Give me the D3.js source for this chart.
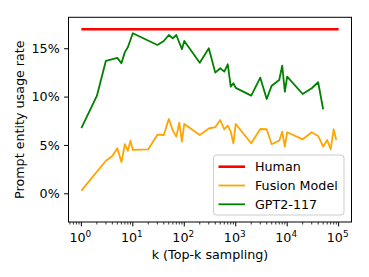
<!DOCTYPE html>
<html>
<head>
<meta charset="utf-8">
<script src="https://cdn.jsdelivr.net/npm/d3@7"></script>
<style>
  body { margin: 0; background: #fff; }
  text { font-family: "DejaVu Sans", sans-serif; }
</style>
</head>
<body>
<div id="chart"></div>
<script>
// data (rate in %)
const humanK = [1, 100000];
const humanRate = [16.97, 16.97];

const fusionK = [1, 3, 4, 5, 6, 7, 8, 9, 10, 20, 30, 40, 50, 60, 70, 80, 90, 100,
  200, 300, 400, 500, 600, 700, 800, 900, 1000, 2000, 3000, 4000, 5000, 7000, 8000,
  9000, 10000, 20000, 30000, 40000, 50000, 60000, 70000, 80000, 90000];
const fusionRate = [0.27, 3.37, 3.86, 4.65, 3.24, 5.07, 4.4, 5.44, 4.48, 4.55, 6.06, 6.03, 7.69, 6.48, 5.86, 7.3, 5.34, 7.17,
  6.03, 6.7, 6.83, 7.58, 6.62, 6.99, 6.37, 5.17, 7.17, 5.17, 6.65, 6.62, 5.07, 5.44, 6.37,
  4.82, 6.31, 5.58, 6.31, 5.93, 4.82, 5.51, 4.55, 6.62, 5.51];

const gptK = [1, 2, 3, 5, 6, 7, 8, 10, 30, 40, 50, 60, 70, 90, 100,
  200, 300, 400, 500, 600, 700, 800, 900, 1000, 2000, 3000, 4000, 5000, 7000, 8000,
  9000, 10000, 20000, 30000, 40000, 50000];
const gptRate = [6.74, 10.07, 13.7, 14.0, 13.45, 14.6, 15.1, 16.55, 15.34, 15.75, 16.37, 16.03, 16.37, 14.9, 15.75,
  13.5, 15.0, 12.48, 12.93, 12.58, 13.34, 11.03, 11.38, 10.9, 10.1, 11.96, 9.75, 11.13, 11.72, 13.2,
  10.5, 12.06, 10.27, 10.86, 11.48, 8.69];

const yTicks = [0, 5, 10, 15];
const xTicks = [1, 10, 100, 1000, 10000, 100000];

const series = [
  {name: "Human", k: humanK, v: humanRate, color: "red", width: 2.6},
  {name: "Fusion Model", k: fusionK, v: fusionRate, color: "orange", width: 1.8},
  {name: "GPT2-117", k: gptK, v: gptRate, color: "green", width: 1.8}
];

const W = 369, H = 277;
const plot = {left: 68.5, right: 351.5, top: 17.3, bottom: 222};
const fs = 12.7;

const svg = d3.select("#chart")
  .append("svg")
    .attr("width", W)
    .attr("height", H);

const x = d3.scaleLog()
  .domain([Math.pow(10, -0.25), Math.pow(10, 5.25)])
  .range([plot.left, plot.right]);

const y = d3.scaleLinear()
  .domain([-2.97, 18.2])
  .range([plot.bottom, plot.top]);

// lines
const line = d3.line()
  .x(d => x(d[0]))
  .y(d => y(d[1]));

series.forEach(s => {
  svg.append("path")
    .datum(s.k.map((k, i) => [k, s.v[i]]))
    .attr("fill", "none")
    .attr("stroke", s.color)
    .attr("stroke-width", s.width)
    .attr("stroke-linejoin", "round")
    .attr("d", line);
});

// y axis
svg.append("g")
  .attr("transform", `translate(${plot.left},0)`)
  .call(d3.axisLeft(y).tickValues(yTicks).tickSize(4.4).tickPadding(4.4).tickFormat(d => d + "%"))
  .call(g => g.select(".domain").remove())
  .call(g => g.selectAll("line").attr("stroke", "#000").attr("stroke-width", 1))
  .call(g => g.selectAll("text").attr("font-size", fs).attr("fill", "#000")
    .attr("font-family", "DejaVu Sans"));

// x axis: minor ticks
const minor = [];
for (let e = -1; e <= 5; e++) {
  for (let m = 2; m <= 9; m++) {
    const v = m * Math.pow(10, e);
    if (v > x.domain()[0] && v < x.domain()[1]) minor.push(v);
  }
}
const xg = svg.append("g")
  .attr("transform", `translate(0,${plot.bottom})`);
xg.selectAll("line.minor")
  .data(minor)
  .join("line")
    .attr("class", "minor")
    .attr("x1", d => x(d)).attr("x2", d => x(d))
    .attr("y1", 0).attr("y2", 2.5)
    .attr("stroke", "#000").attr("stroke-width", 0.8);
xg.selectAll("line.major")
  .data(xTicks)
  .join("line")
    .attr("class", "major")
    .attr("x1", d => x(d)).attr("x2", d => x(d))
    .attr("y1", 0).attr("y2", 4.4)
    .attr("stroke", "#000").attr("stroke-width", 1);
const lab = xg.selectAll("text.tl")
  .data(xTicks)
  .join("text")
    .attr("class", "tl")
    .attr("x", d => x(d) - 1)
    .attr("y", 19.5)
    .attr("text-anchor", "middle")
    .attr("font-size", fs);
lab.append("tspan").text("10");
lab.append("tspan")
  .attr("dy", -5)
  .attr("font-size", fs * 0.7)
  .text(d => Math.round(Math.log10(d)));

// frame
svg.append("rect")
  .attr("x", plot.left).attr("y", plot.top)
  .attr("width", plot.right - plot.left)
  .attr("height", plot.bottom - plot.top)
  .attr("fill", "none")
  .attr("stroke", "#000")
  .attr("stroke-width", 1);

// axis labels
svg.append("text")
  .attr("x", (plot.left + plot.right) / 2)
  .attr("y", 259)
  .attr("text-anchor", "middle")
  .attr("font-size", fs)
  .text("k (Top-k sampling)");

svg.append("text")
  .attr("transform", `translate(24,${(plot.top + plot.bottom) / 2}) rotate(-90)`)
  .attr("text-anchor", "middle")
  .attr("font-size", fs)
  .text("Prompt entity usage rate");

// legend
const leg = svg.append("g").attr("transform", "translate(213.5,155)");
leg.append("rect")
  .attr("width", 130.5).attr("height", 60)
  .attr("rx", 3)
  .attr("fill", "#fff").attr("fill-opacity", 0.8)
  .attr("stroke", "#ccc");
series.forEach((s, i) => {
  const ly = 11.7 + i * 18.8;
  leg.append("line")
    .attr("x1", 5).attr("x2", 31.5)
    .attr("y1", ly).attr("y2", ly)
    .attr("stroke", s.color)
    .attr("stroke-width", s.width);
  leg.append("text")
    .attr("x", 41.5).attr("y", ly + 4.5)
    .attr("font-size", fs)
    .text(s.name);
});
</script>
</body>
</html>
